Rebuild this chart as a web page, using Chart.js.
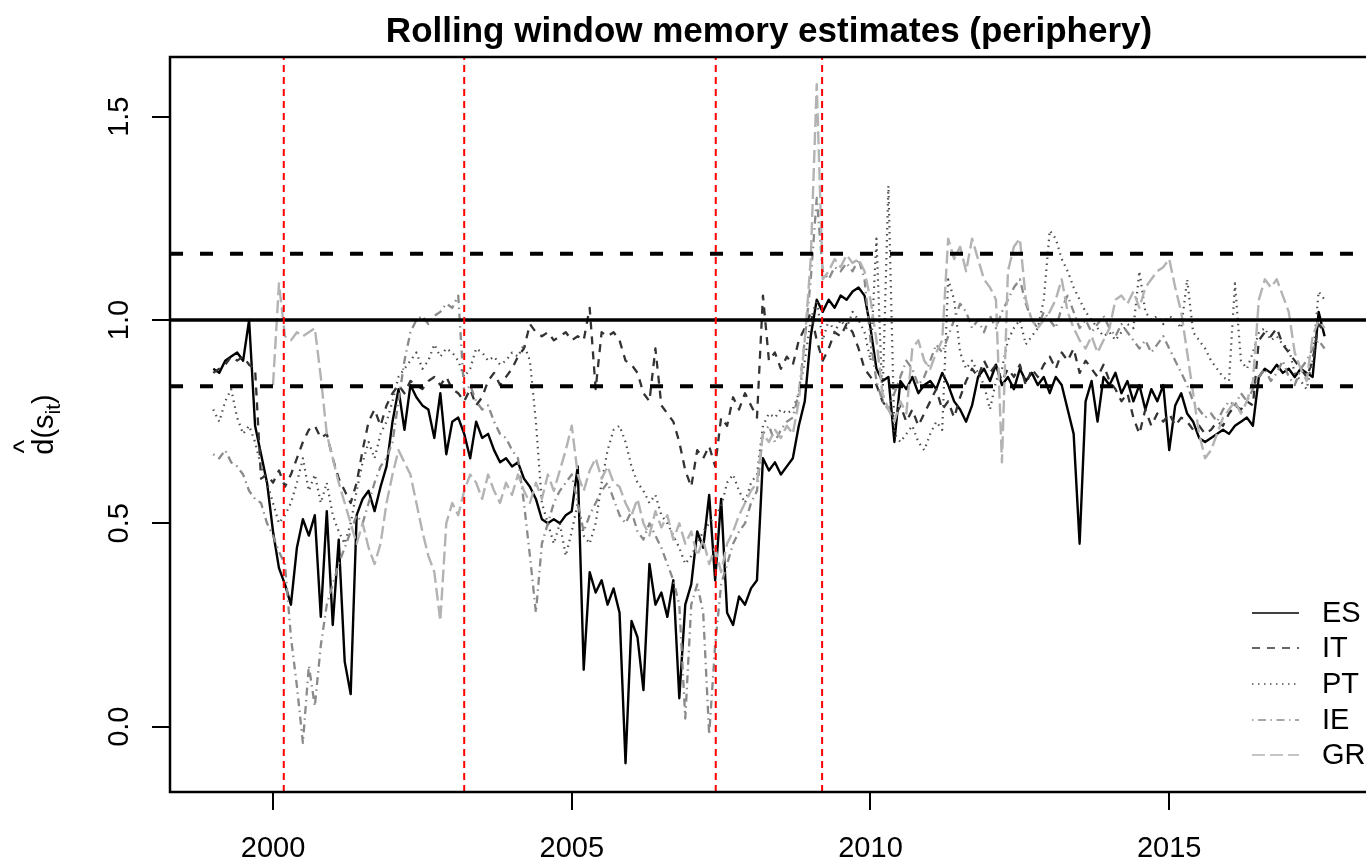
<!DOCTYPE html>
<html><head><meta charset="utf-8">
<script src="https://cdn.jsdelivr.net/npm/chart.js@4.4.1/dist/chart.umd.min.js"></script>
<style>html,body{margin:0;padding:0;background:#fff;overflow:hidden}canvas{display:block}</style>
</head><body>
<canvas id="c" width="1366" height="861"></canvas>
<script>
// sample grid: first observation and spacing (years)
const startYear = 1999.0;
const stepYears = 0.1;

const ES = [
0.88,0.87,0.90,0.91,0.92,0.90,1.00,0.74,0.67,0.60,
0.48,0.39,0.35,0.30,0.44,0.51,0.47,0.52,0.27,0.53,
0.25,0.46,0.16,0.08,0.52,0.56,0.58,0.53,0.59,0.64,
0.75,0.83,0.73,0.84,0.81,0.79,0.78,0.71,0.82,0.67,
0.75,0.76,0.72,0.66,0.75,0.71,0.72,0.68,0.65,0.66,
0.64,0.65,0.61,0.59,0.56,0.51,0.50,0.51,0.50,0.52,
0.53,0.64,0.14,0.38,0.33,0.36,0.30,0.34,0.28,-0.09,
0.26,0.22,0.09,0.40,0.30,0.33,0.27,0.36,0.07,0.30,
0.35,0.48,0.44,0.57,0.36,0.56,0.28,0.25,0.32,0.30,
0.34,0.36,0.66,0.63,0.65,0.62,0.64,0.66,0.74,0.80,
0.96,1.05,1.02,1.05,1.03,1.06,1.05,1.07,1.08,1.06,
0.98,0.88,0.85,0.86,0.70,0.85,0.83,0.86,0.82,0.84,
0.85,0.83,0.87,0.84,0.80,0.78,0.75,0.79,0.86,0.88,
0.85,0.89,0.84,0.86,0.83,0.88,0.85,0.87,0.84,0.86,
0.82,0.86,0.84,0.78,0.72,0.45,0.80,0.85,0.75,0.86,
0.84,0.87,0.82,0.85,0.80,0.84,0.78,0.83,0.80,0.84,
0.68,0.79,0.82,0.77,0.75,0.71,0.70,0.71,0.72,0.73,
0.72,0.74,0.75,0.76,0.74,0.86,0.88,0.87,0.89,0.87,
0.88,0.86,0.88,0.87,0.86,1.02,0.96];

const IT = [
0.87,0.88,0.89,0.91,0.90,0.91,0.89,0.88,0.61,0.62,
0.60,0.63,0.59,0.62,0.66,0.70,0.73,0.74,0.71,0.72,
0.66,0.61,0.58,0.55,0.60,0.68,0.75,0.78,0.74,0.79,
0.82,0.84,0.82,0.85,0.84,0.83,0.85,0.86,0.84,0.86,
0.83,0.82,0.80,0.83,0.79,0.81,0.85,0.87,0.84,0.86,
0.88,0.91,0.93,0.99,0.97,0.96,0.97,0.95,0.96,0.97,
0.95,0.96,0.95,1.03,0.83,0.97,0.96,0.97,0.95,0.90,
0.89,0.87,0.82,0.80,0.93,0.79,0.77,0.75,0.70,0.63,
0.59,0.68,0.66,0.69,0.64,0.76,0.74,0.81,0.78,0.82,
0.79,0.76,1.06,0.90,0.92,0.88,0.91,0.89,0.95,0.98,
1.02,0.95,0.90,0.93,0.97,0.96,0.99,0.97,0.93,0.88,
0.86,0.84,0.80,0.78,0.76,0.79,0.75,0.78,0.74,0.77,
0.80,0.83,0.78,0.80,0.76,0.81,0.85,0.88,0.86,0.90,
0.87,0.89,0.85,0.88,0.86,0.89,0.84,0.88,0.86,0.89,
0.91,0.88,0.92,0.90,0.93,0.87,0.90,0.88,0.86,0.89,
0.85,0.83,0.80,0.82,0.76,0.72,0.78,0.74,0.77,0.75,
0.77,0.74,0.76,0.75,0.73,0.74,0.72,0.73,0.75,0.74,
0.77,0.79,0.78,0.80,0.79,0.95,0.97,0.96,0.98,0.94,
0.92,0.90,0.88,0.86,0.90,0.99,0.97];

const PT = [
0.78,0.75,0.80,0.83,0.76,0.72,0.74,0.70,0.64,0.60,
0.55,0.50,0.52,0.55,0.60,0.66,0.58,0.62,0.55,0.60,
0.52,0.48,0.45,0.50,0.58,0.65,0.70,0.66,0.72,0.75,
0.80,0.86,0.88,0.90,0.92,0.88,0.90,0.94,0.91,0.93,
0.92,0.90,0.86,0.88,0.93,0.92,0.90,0.91,0.89,0.90,
0.92,0.91,0.94,0.90,0.75,0.55,0.50,0.45,0.50,0.42,
0.48,0.55,0.47,0.45,0.50,0.60,0.68,0.73,0.74,0.70,
0.64,0.60,0.58,0.55,0.57,0.52,0.50,0.47,0.44,0.40,
0.42,0.45,0.48,0.50,0.52,0.54,0.60,0.62,0.58,0.55,
0.60,0.62,0.74,0.77,0.76,0.78,0.77,0.78,0.82,0.90,
1.00,1.05,0.95,1.00,0.97,1.00,0.98,1.02,1.00,0.97,
0.90,1.20,0.80,1.33,0.72,0.70,0.72,0.74,0.70,0.68,
0.72,0.75,0.73,1.10,1.05,0.92,0.88,0.90,0.87,0.84,
0.78,0.85,0.88,0.95,0.98,1.00,0.94,0.96,0.98,1.05,
1.22,1.20,1.15,1.12,1.08,1.05,1.02,1.00,0.98,0.96,
0.97,0.95,0.97,0.99,0.98,1.12,1.02,1.00,1.01,0.99,
1.01,1.00,0.98,1.10,0.97,0.95,0.93,0.90,0.88,0.86,
0.85,1.09,0.90,0.88,0.92,0.97,0.98,0.95,0.96,0.94,
0.93,0.87,0.85,0.83,0.90,1.07,1.05];

const IE = [
0.67,0.66,0.68,0.65,0.64,0.62,0.58,0.56,0.55,0.50,
0.47,0.43,0.40,0.22,0.10,-0.04,0.15,0.05,0.20,0.30,
0.35,0.40,0.44,0.48,0.52,0.50,0.55,0.60,0.64,0.66,
0.70,0.80,0.90,0.97,1.00,1.01,0.99,1.01,1.02,1.04,
1.03,1.06,0.82,0.84,0.80,0.78,0.79,0.75,0.72,0.71,
0.68,0.66,0.55,0.42,0.28,0.45,0.50,0.55,0.58,0.60,
0.62,0.55,0.48,0.52,0.55,0.58,0.60,0.56,0.52,0.50,
0.53,0.48,0.46,0.50,0.47,0.44,0.40,0.36,0.30,0.02,
0.30,0.35,0.28,-0.02,0.20,0.35,0.40,0.45,0.48,0.50,
0.55,0.58,0.72,0.74,0.70,0.73,0.75,0.76,0.82,0.95,
1.10,1.30,1.12,1.10,1.13,1.12,1.14,1.12,1.15,1.10,
0.95,0.85,0.80,0.78,0.82,0.86,0.90,0.88,0.84,0.86,
0.90,0.94,0.92,0.96,1.00,1.04,1.02,0.98,1.00,0.97,
1.01,0.98,1.02,1.05,1.08,1.10,1.04,1.00,0.98,1.02,
1.00,0.98,1.03,1.06,1.02,0.98,1.00,0.97,0.99,1.01,
0.98,0.96,0.99,0.97,0.95,0.93,0.95,0.92,0.94,0.96,
0.93,0.90,0.87,0.84,0.80,0.78,0.76,0.77,0.75,0.78,
0.80,0.79,0.82,0.80,0.83,0.86,0.88,0.85,0.87,0.90,
0.86,0.84,0.88,0.90,0.93,0.95,0.93];

const GR = [
null,null,null,null,null,null,null,null,null,null,
0.84,1.09,0.96,0.95,0.97,0.96,0.97,0.98,0.86,0.72,
0.66,0.60,0.55,0.50,0.45,0.50,0.44,0.40,0.45,0.55,
0.62,0.68,0.65,0.62,0.55,0.48,0.42,0.38,0.26,0.50,
0.55,0.52,0.58,0.62,0.60,0.56,0.62,0.58,0.55,0.60,
0.57,0.62,0.58,0.55,0.60,0.56,0.62,0.58,0.63,0.68,
0.74,0.62,0.58,0.63,0.66,0.61,0.64,0.60,0.59,0.55,
0.52,0.56,0.50,0.47,0.53,0.49,0.52,0.46,0.50,0.45,
0.48,0.42,0.46,0.40,0.44,0.38,0.45,0.48,0.52,0.55,
0.58,0.60,0.72,0.70,0.73,0.71,0.74,0.72,0.80,0.95,
1.15,1.58,1.10,1.12,1.15,1.13,1.16,1.14,1.15,1.12,
1.05,0.95,0.82,0.78,0.75,0.80,0.77,0.93,0.95,0.90,
0.88,0.92,0.95,1.20,1.15,1.18,1.12,1.20,1.15,1.10,
1.08,1.05,0.65,1.12,1.18,1.20,1.05,1.00,0.98,1.00,
1.02,1.05,1.10,1.02,0.98,0.95,0.93,0.96,0.92,0.95,
0.98,1.05,1.06,1.04,1.07,1.03,1.08,1.10,1.12,1.13,
1.15,1.08,1.02,0.92,0.82,0.72,0.66,0.68,0.72,0.76,
0.78,0.80,0.77,0.80,0.85,1.05,1.10,1.08,1.10,1.06,
1.02,0.92,0.88,0.85,0.96,1.00,0.98];

const seriesNames = ['ES','IT','PT','IE','GR'];
const seriesValues = {ES, IT, PT, IE, GR};
const refLevels = [0.837, 1.0, 1.163];
const eventDates = [2000.18, 2003.2, 2007.41, 2009.19];
const xTicks = [2000, 2005, 2010, 2015];
const yTicks = [0.0, 0.5, 1.0, 1.5];
const yTickLabels = ['0.0', '0.5', '1.0', '1.5'];
const xRange = [1998.276, 2018.293];
const yRange = [-0.1606, 1.6467];
const titleText = 'Rolling window memory estimates (periphery)';

const styles = {
  ES: {color: '#000000', dash: [], width: 2.4},
  IT: {color: '#333333', dash: [8, 7], width: 2.3},
  PT: {color: '#4d4d4d', dash: [1.5, 4.5], width: 2.2},
  IE: {color: '#8a8a8a', dash: [1.5, 4.5, 8, 4.5], width: 2.3},
  GR: {color: '#b3b3b3', dash: [13, 5], width: 2.4}
};
const FONT = '"Liberation Sans", Arial, Helvetica, sans-serif';

function toPoints(vals) {
  return vals.map((v, i) => ({x: Math.round((startYear + i * stepYears) * 100) / 100, y: v}));
}

const datasets = [];
// red event lines (on top)
eventDates.forEach(d => datasets.push({
  data: [{x: d, y: yRange[0]}, {x: d, y: yRange[1]}],
  borderColor: '#ff0000', borderWidth: 2, borderDash: [7, 5], pointRadius: 0, clip: 0
}));
// reference levels
refLevels.forEach(l => datasets.push({
  data: [{x: xRange[0], y: l}, {x: xRange[1], y: l}],
  borderColor: '#000000', borderWidth: l === 1.0 ? 3.5 : 4,
  borderDash: l === 1.0 ? [] : [13, 17], pointRadius: 0, clip: 0
}));
// series: last plotted in R (GR) on top
['GR', 'IE', 'PT', 'IT', 'ES'].forEach(n => datasets.push({
  label: n,
  data: toPoints(seriesValues[n]),
  borderColor: styles[n].color, borderWidth: styles[n].width, borderDash: styles[n].dash,
  pointRadius: 0, tension: 0, spanGaps: false, borderJoinStyle: 'round'
}));

const decor = {
  id: 'decor',
  afterDraw(chart) {
    const ctx = chart.ctx, a = chart.chartArea;
    const xs = chart.scales.x, ys = chart.scales.y;
    ctx.save();
    ctx.strokeStyle = '#000'; ctx.fillStyle = '#000';
    // box (top, left, bottom)
    ctx.lineWidth = 2.5; ctx.setLineDash([]);
    ctx.beginPath();
    ctx.moveTo(a.right + 5, a.top); ctx.lineTo(a.left, a.top); ctx.lineTo(a.left, a.bottom); ctx.lineTo(a.right + 5, a.bottom);
    ctx.stroke();
    // ticks
    ctx.lineWidth = 2;
    ctx.beginPath();
    xTicks.forEach(t => { const p = Math.round(xs.getPixelForValue(t)); ctx.moveTo(p, a.bottom); ctx.lineTo(p, a.bottom + 18); });
    yTicks.forEach(t => { const p = Math.round(ys.getPixelForValue(t)); ctx.moveTo(a.left, p); ctx.lineTo(a.left - 18, p); });
    ctx.stroke();
    // x tick labels
    ctx.font = '29px ' + FONT;
    ctx.textAlign = 'center'; ctx.textBaseline = 'alphabetic';
    xTicks.forEach(t => ctx.fillText(String(t), xs.getPixelForValue(t), 857));
    // y tick labels (rotated)
    yTicks.forEach((t, i) => {
      ctx.save();
      ctx.translate(128, ys.getPixelForValue(t));
      ctx.rotate(-Math.PI / 2);
      ctx.textAlign = 'center'; ctx.textBaseline = 'alphabetic';
      ctx.fillText(yTickLabels[i], 0, 0);
      ctx.restore();
    });
    // title
    ctx.font = 'bold 35px ' + FONT;
    ctx.textAlign = 'center';
    ctx.fillText(titleText, 769, 42);
    // y axis label: hat(d)(s_it)
    ctx.save();
    ctx.translate(53, (a.top + a.bottom) / 2);
    ctx.rotate(-Math.PI / 2);
    const big = '29px ' + FONT, small = '21px ' + FONT;
    ctx.font = big;
    const wd = ctx.measureText('d').width, wo = ctx.measureText('(s').width, wc = ctx.measureText(')').width;
    ctx.font = small;
    const wi = ctx.measureText('it').width;
    const total = wd + wo + wi + wc;
    let u = -total / 2;
    ctx.textAlign = 'left';
    ctx.font = big;
    ctx.fillText('d', u, 0);
    ctx.textAlign = 'center';
    ctx.fillText('^', u + wd / 2, -19);
    ctx.textAlign = 'left';
    u += wd;
    ctx.fillText('(s', u, 0); u += wo;
    ctx.font = small;
    ctx.fillText('it', u, 7); u += wi;
    ctx.font = big;
    ctx.fillText(')', u, 0);
    ctx.restore();
    // legend
    const rows = [613, 648, 684, 720, 755];
    seriesNames.forEach((n, i) => {
      const y = rows[i];
      ctx.strokeStyle = styles[n].color;
      ctx.lineWidth = 1.4;
      ctx.setLineDash(styles[n].dash);
      ctx.beginPath(); ctx.moveTo(1252, y); ctx.lineTo(1299, y); ctx.stroke();
      ctx.setLineDash([]);
      ctx.fillStyle = '#000';
      ctx.font = '29px ' + FONT;
      ctx.textAlign = 'left'; ctx.textBaseline = 'middle';
      ctx.fillText(n, 1322, y + 1);
    });
    ctx.restore();
  }
};

new Chart(document.getElementById('c'), {
  type: 'line',
  data: {datasets},
  options: {
    responsive: false, animation: false, devicePixelRatio: 1,
    layout: {padding: {left: 170, top: 57, right: 0, bottom: 69}},
    plugins: {legend: {display: false}, tooltip: {enabled: false}, title: {display: false}},
    scales: {
      x: {type: 'linear', min: xRange[0], max: xRange[1], display: false},
      y: {type: 'linear', min: yRange[0], max: yRange[1], display: false}
    },
    elements: {line: {borderCapStyle: 'butt'}}
  },
  plugins: [decor]
});
</script>
</body></html>
